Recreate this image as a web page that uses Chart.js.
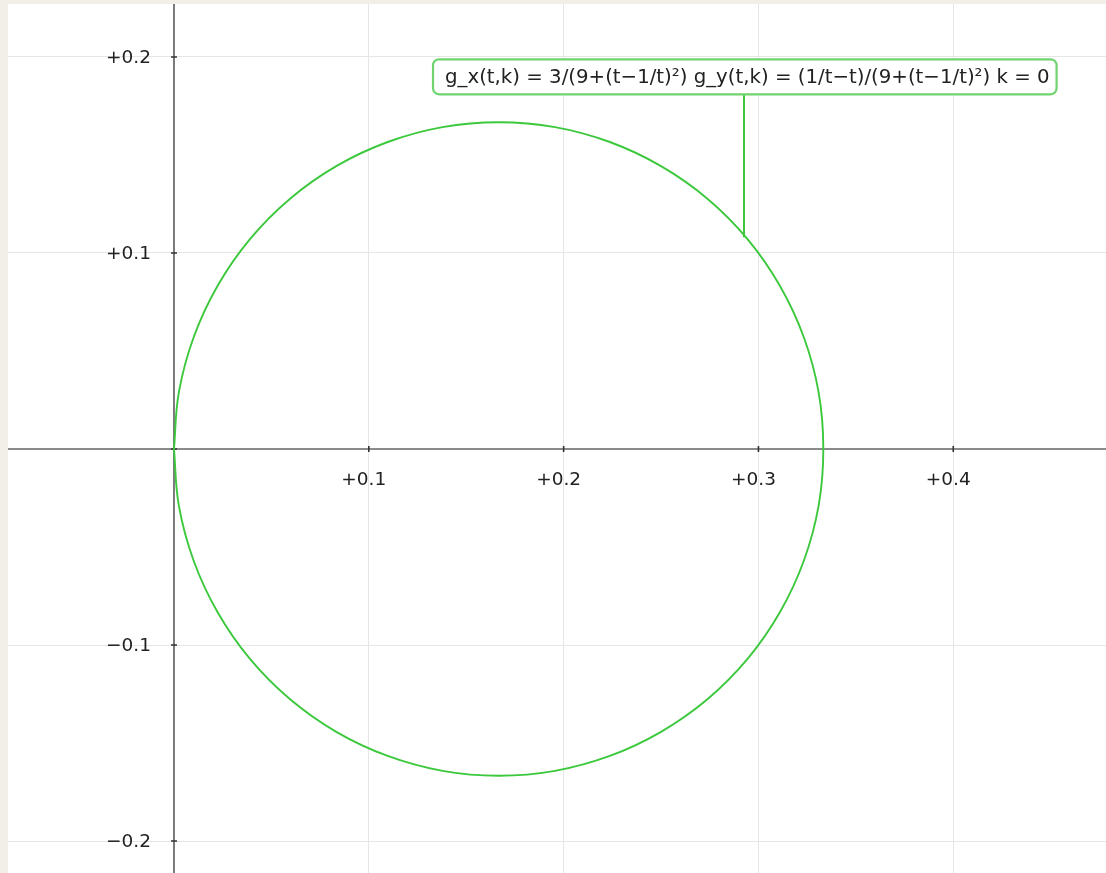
<!DOCTYPE html>
<html><head><meta charset="utf-8">
<script src="https://cdn.jsdelivr.net/npm/chart.js@4/dist/chart.umd.min.js"></script>
<style>
html,body{margin:0;padding:0;background:#f2eee8;width:1106px;height:873px;overflow:hidden}
#wrap{position:absolute;left:8px;top:4px;width:1098px;height:869px;background:#fff}
canvas{display:block}
</style></head><body>
<div id="wrap"><canvas id="c" width="1098" height="869"></canvas></div>
<script>
// Curve points (circle through the origin)
const curveX = [0.0000,0.0025,0.0101,0.0224,0.0390,0.0596,0.0833,0.1097,0.1378,0.1667,0.1956,0.2237,0.2500,0.2738,0.2944,0.3110,0.3233,0.3309,0.3333,0.3309,0.3233,0.3110,0.2944,0.2738,0.2500,0.2237,0.1956,0.1667,0.1378,0.1097,0.0833,0.0596,0.0390,0.0224,0.0101,0.0025,0.0000];
const curveY = [0.0000,0.0289,0.0570,0.0833,0.1071,0.1277,0.1443,0.1566,0.1642,0.1667,0.1642,0.1566,0.1443,0.1277,0.1071,0.0833,0.0570,0.0289,0.0000,-0.0289,-0.0570,-0.0833,-0.1071,-0.1277,-0.1443,-0.1566,-0.1642,-0.1667,-0.1642,-0.1566,-0.1443,-0.1277,-0.1071,-0.0833,-0.0570,-0.0289,0.0000];
const xTicks = [0.1, 0.2, 0.3, 0.4];
const xTickLabels = ['+0.1', '+0.2', '+0.3', '+0.4'];
const yTicks = [0.2, 0.1, -0.1, -0.2];
const yTickLabels = ['+0.2', '+0.1', '\u22120.1', '\u22120.2'];
const labelText = 'g_x(t,k) = 3/(9+(t\u22121/t)\u00b2) g_y(t,k) = (1/t\u2212t)/(9+(t\u22121/t)\u00b2) k = 0';
const labelPoint = [0.2926, 0.108];

const FONT = '18.5px "DejaVu Sans"';
const GREEN = '#3cc83c';

const axesPlugin = {
  id: 'axes',
  beforeDatasetsDraw(chart) {
    const {ctx, chartArea: a, scales: {x, y}} = chart;
    const x0 = x.getPixelForValue(0), y0 = y.getPixelForValue(0);
    ctx.save();
    ctx.strokeStyle = '#666';
    ctx.lineWidth = 1.7;
    ctx.beginPath();
    ctx.moveTo(a.left, y0); ctx.lineTo(a.right, y0);
    ctx.moveTo(x0, a.top); ctx.lineTo(x0, a.bottom);
    ctx.stroke();
    ctx.strokeStyle = '#333';
    ctx.lineWidth = 1.6;
    ctx.beginPath();
    xTicks.forEach(v => { const p = x.getPixelForValue(v); ctx.moveTo(p, y0 - 3); ctx.lineTo(p, y0 + 3); });
    yTicks.forEach(v => { const p = y.getPixelForValue(v); ctx.moveTo(x0 - 3, p); ctx.lineTo(x0 + 3, p); });
    ctx.moveTo(x0 - 3, y0); ctx.lineTo(x0 + 3, y0);
    ctx.stroke();
    ctx.fillStyle = '#222';
    ctx.font = FONT;
    ctx.textAlign = 'center'; ctx.textBaseline = 'middle';
    xTicks.forEach((v, i) => ctx.fillText(xTickLabels[i], x.getPixelForValue(v) - 5, y0 + 31));
    ctx.textAlign = 'right';
    yTicks.forEach((v, i) => ctx.fillText(yTickLabels[i], x0 - 23, y.getPixelForValue(v) + 1.5));
    ctx.restore();
  },
  afterDatasetsDraw(chart) {
    const {ctx, scales: {x, y}} = chart;
    const ax = x.getPixelForValue(labelPoint[0]), ay = y.getPixelForValue(labelPoint[1]);
    ctx.save();
    ctx.font = '17px "DejaVu Sans"';
    const size = 17 * 605 / ctx.measureText(labelText).width;
    ctx.font = size.toFixed(2) + 'px "DejaVu Sans"';
    const tw = ctx.measureText(labelText).width;
    const bx = ax - 311, bt = ay - 178, bh = 35, bw = tw + 19;
    ctx.strokeStyle = GREEN; ctx.lineWidth = 2;
    ctx.beginPath(); ctx.moveTo(ax, ay); ctx.lineTo(ax, bt + bh); ctx.stroke();
    ctx.fillStyle = '#fff';
    ctx.strokeStyle = '#6fd36f';
    ctx.lineWidth = 2.2;
    ctx.beginPath(); ctx.roundRect(bx, bt, bw, bh, 6); ctx.fill(); ctx.stroke();
    ctx.fillStyle = '#222'; ctx.textAlign = 'left'; ctx.textBaseline = 'middle';
    ctx.fillText(labelText, bx + 12, bt + bh / 2 + 1);
    ctx.restore();
  }
};

const hideFit = s => { if (s.isHorizontal()) s.height = 0; else s.width = 0; };

new Chart(document.getElementById('c'), {
  type: 'scatter',
  data: { datasets: [{
    data: curveX.map((v, i) => ({x: v, y: curveY[i]})),
    showLine: true, borderColor: GREEN, borderWidth: 1.9, pointRadius: 0, tension: 0.4, fill: false
  }]},
  options: {
    responsive: false, animation: false, devicePixelRatio: 1,
    layout: { padding: 0 },
    plugins: { legend: { display: false }, tooltip: { enabled: false } },
    scales: {
      x: { type: 'linear', min: -0.0852, max: 0.4784,
        ticks: { display: false }, border: { display: false },
        grid: { color: '#e6e6e6', lineWidth: 1, drawTicks: false },
        afterBuildTicks: s => { s.ticks = xTicks.map(v => ({value: v})); },
        afterFit: hideFit },
      y: { type: 'linear', min: -0.2163, max: 0.2270,
        ticks: { display: false }, border: { display: false },
        grid: { color: '#e6e6e6', lineWidth: 1, drawTicks: false },
        afterBuildTicks: s => { s.ticks = yTicks.map(v => ({value: v})); },
        afterFit: hideFit }
    }
  },
  plugins: [axesPlugin]
});
</script>
</body></html>
